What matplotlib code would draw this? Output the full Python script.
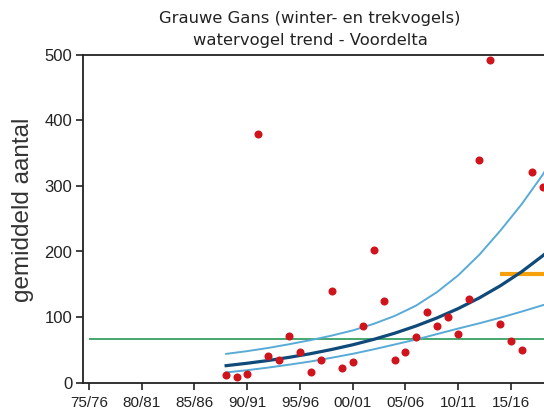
import matplotlib
matplotlib.use("Agg")
import matplotlib.pyplot as plt

# ---- data ----
years = list(range(1988, 2019))
counts = [11, 8, 13, 379, 41, 34, 71, 47, 16, 34, 140, 22, 31, 87, 203, 125,
          34, 47, 69, 107, 87, 100, 74, 128, 340, 493, 89, 64, 49, 322, 299]

trend_years = [1988, 1990, 1992, 1994, 1996, 1998, 2000, 2002, 2004, 2006,
               2008, 2010, 2012, 2014, 2016, 2018, 2019]
trend = [25.7, 29.4, 33.6, 38.5, 44.0, 50.4, 57.6, 65.9, 75.4, 86.3,
         98.7, 112.9, 129.2, 147.8, 169.0, 193.4, 207.0]
upper = [43.7, 47.9, 52.8, 58.5, 64.7, 71.6, 79.5, 89.6, 101.8, 117.4,
         138.2, 163.7, 195.1, 232.0, 272.0, 317.0, 344.0]
lower = [15.4, 18.8, 22.8, 27.3, 32.1, 37.8, 43.8, 50.7, 58.1, 65.6,
         74.0, 82.4, 90.4, 99.0, 108.2, 118.0, 122.1]

reference_level = 66
target_start = 2014
target_level = 165

tick_years = [1975, 1980, 1985, 1990, 1995, 2000, 2005, 2010, 2015]
tick_labels = ["75/76", "80/81", "85/86", "90/91", "95/96", "00/01", "05/06", "10/11", "15/16"]
y_ticks = [0, 100, 200, 300, 400, 500]

title_lines = ["Grauwe Gans (winter- en trekvogels)", "watervogel trend - Voordelta"]

# ---- figure ----
fig = plt.figure(figsize=(5.44, 4.15), dpi=100)
x_left = 1974.46
x_right = 2022.0
px_per_year = 10.55
ax_w = (x_right - x_left) * px_per_year / 544
ax = fig.add_axes([83.3 / 544, 1 - 382.5 / 415, ax_w, (382.5 - 55) / 415])
ax.set_xlim(x_left, x_right)
ax.set_ylim(0, 500)

ax.hlines(reference_level, 1975, x_right, color="#36a062", lw=1.3, zorder=2)
ax.hlines(target_level, target_start, x_right, color="#f5a00c", lw=3.0, zorder=2)

ax.plot(trend_years, upper, color="#58abd6", lw=1.4, zorder=3)
ax.plot(trend_years, lower, color="#58abd6", lw=1.4, zorder=3)
ax.plot(trend_years, trend, color="#0f4a7a", lw=2.3, zorder=4)

ax.plot(years, counts, "o", color="#d0141c", ms=5.8, mec="none", zorder=5)

ax.spines["right"].set_visible(False)
for s in ["left", "bottom", "top"]:
    ax.spines[s].set_linewidth(1.3)
    ax.spines[s].set_color("#222222")

ax.set_xticks(tick_years)
ax.set_xticklabels(tick_labels, fontsize=11, family="Liberation Sans", color="#222222")
ax.set_yticks(y_ticks)
ax.set_yticklabels([str(v) for v in y_ticks], fontsize=12, family="Liberation Sans", color="#222222")
ax.tick_params(axis="both", direction="out", length=5, width=1.2, color="#222222")
ax.tick_params(axis="x", pad=5)
ax.tick_params(axis="y", pad=3)

fig.text(23 / 544, 1 - 210 / 415, "gemiddeld aantal", rotation=90, fontsize=17.5,
         family="Liberation Sans", color="#333333", ha="center", va="center")

fig.text(310 / 544, 1 - 19 / 415, title_lines[0], fontsize=11.8, family="DejaVu Sans",
         color="#222222", ha="center", va="center")
fig.text(310 / 544, 1 - 41 / 415, title_lines[1], fontsize=11.8, family="DejaVu Sans",
         color="#222222", ha="center", va="center")

fig.savefig("out.png", dpi=100)
